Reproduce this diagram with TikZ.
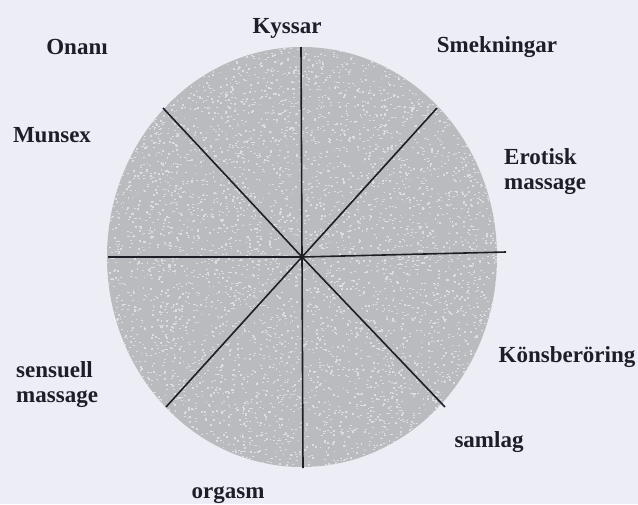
\documentclass[tikz,border=0pt]{standalone}
\usepackage{fontspec}
\setmainfont{Liberation Serif}
\definecolor{paper}{HTML}{EDEEF5}
\definecolor{ellfill}{HTML}{BABBBF}
\definecolor{speckcol}{HTML}{DCDDE2}
\definecolor{ink}{HTML}{1E1E26}
\tikzset{
  lbl/.style={font=\fontsize{23}{25}\selectfont\bfseries, text=ink, inner sep=0pt, align=left},
  spoke/.style={draw=ink, line width=1.6pt}
}
\begin{document}
\begin{tikzpicture}[x=1pt,y=-1pt]
\fill[paper] (0,0) rectangle (638,504);
\useasboundingbox (0,0) rectangle (638,504);
\coordinate (c) at (302,257);
\fill[ellfill] (c) ellipse [x radius=195, y radius=210];
\begin{scope}
  \clip (c) ellipse [x radius=195, y radius=210];
  \pgfmathsetseed{7}
  \foreach \i in {1,...,6000} {
    \fill[speckcol] ({107+rnd*392},{46+rnd*422}) rectangle ++(1.8,1.3);
  }
\end{scope}
\coordinate (n) at (301,47);
\coordinate (s) at (303,468);
\coordinate (w) at (108,257);
\coordinate (e) at (506,252);
\coordinate (nw) at (163,108);
\coordinate (ne) at (437,108);
\coordinate (sw) at (166,407);
\coordinate (se) at (445,407);
\foreach \p in {n,s,w,e,nw,ne,sw,se} { \draw[spoke] (c) -- (\p); }
\node[lbl] (kyssar) at (287,28) {Kyssar};
\node[lbl] (onani) at (77,47) {Onanı};
\node[lbl] (smek) at (497,47) {Smekningar};
\node[lbl] (munsex) at (52,135) {Munsex};
\node[lbl, anchor=west] (erotisk) at (504,172) {Erotisk\\massage};
\node[lbl] (kons) at (567,357) {Könsberöring};
\node[lbl, anchor=west] (sensuell) at (16,385) {sensuell\\massage};
\node[lbl] (samlag) at (489,442) {samlag};
\node[lbl] (orgasm) at (228,495) {orgasm};
\end{tikzpicture}
\end{document}
